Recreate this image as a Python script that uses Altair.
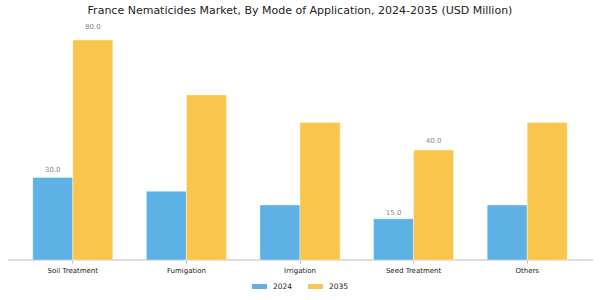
import altair as alt
import pandas as pd

categories = ["Soil Treatment", "Fumigation", "Irrigation", "Seed Treatment", "Others"]
years = ["2024", "2035"]
values_2024 = [30, 25, 20, 15, 20]
values_2035 = [80, 60, 50, 40, 50]
labels_2024 = ["30.0", "", "", "15.0", ""]
labels_2035 = ["80.0", "", "", "40.0", ""]

rows = []
for c, v, l in zip(categories, values_2024, labels_2024):
    rows.append({"category": c, "year": "2024", "value": v, "label": l})
for c, v, l in zip(categories, values_2035, labels_2035):
    rows.append({"category": c, "year": "2035", "value": v, "label": l})
df = pd.DataFrame(rows)

colors = ["#5DB1E4", "#F9C54D"]

base = alt.Chart(df).encode(
    x=alt.X(
        "category:N",
        sort=categories,
        scale=alt.Scale(paddingInner=0.295, paddingOuter=0.1475),
        axis=alt.Axis(
            title=None,
            labelAngle=0,
            labelFontSize=7,
            labelColor="#222222",
            labelFont="DejaVu Sans",
            labelPadding=3,
            tickSize=3,
            tickColor="#bbbbbb",
            domain=False,
            grid=False,
        ),
    ),
    xOffset=alt.XOffset("year:N", sort=years, scale=alt.Scale(paddingInner=0, paddingOuter=0)),
)

y_scale = alt.Scale(domain=[0, 84], nice=False)

bars = base.mark_bar(stroke="white", strokeWidth=0.4).encode(
    y=alt.Y("value:Q", scale=y_scale, axis=None),
    color=alt.Color(
        "year:N",
        sort=years,
        scale=alt.Scale(domain=years, range=colors),
        legend=alt.Legend(
            title=None,
            orient="none",
            direction="horizontal",
            legendX=236,
            legendY=250,
            symbolType="M-1,-0.33H1V0.33H-1Z",
            symbolSize=225,
            symbolStrokeWidth=0,
            labelFontSize=7.5,
            labelFont="DejaVu Sans",
            labelColor="#222222",
            labelOffset=6,
            columnPadding=15,
        ),
    ),
)

texts = (
    base.transform_filter("datum.label != ''")
    .transform_calculate(label_y="datum.value * 1.04 + 1.5")
    .mark_text(fontSize=7, color="#888888", font="DejaVu Sans", baseline="middle")
    .encode(y=alt.Y("label_y:Q", scale=y_scale, axis=None), text="label:N")
)

axis_line = alt.Chart(df).mark_rule(color="#dddddd", strokeWidth=1).encode(
    x=alt.value(-8), x2=alt.value(577), y=alt.value(231)
)

chart = (
    alt.layer(axis_line, bars, texts)
    .properties(
        width=568,
        height=231,
        padding={"left": 16, "top": 29, "right": 16, "bottom": 40},
        autosize=alt.AutoSizeParams(type="none"),
        title=alt.TitleParams(
            "France Nematicides Market, By Mode of Application, 2024-2035 (USD Million)",
            fontSize=11,
            fontWeight="normal",
            font="DejaVu Sans",
            color="#222222",
            anchor="middle",
            offset=7,
        ),
    )
    .configure_view(stroke=None)
)

chart.save("out.html", embed_options={"renderer": "svg", "actions": False})
